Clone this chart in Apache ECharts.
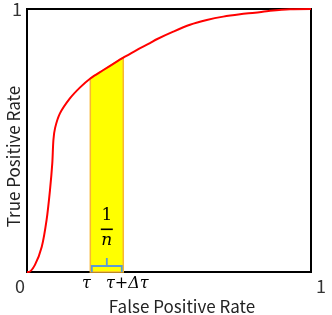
<!DOCTYPE html>
<html>
<head>
<meta charset="utf-8">
<script src="https://cdn.jsdelivr.net/npm/echarts@6/dist/echarts.min.js"></script>
<style>html,body{margin:0;padding:0;background:#fff}#c{width:332px;height:315px}</style>
</head>
<body>
<div id="c"></div>
<script>
// ROC curve points [FPR, TPR]
const rocX = [0, 0.005, 0.028, 0.052, 0.069, 0.081, 0.089, 0.093, 0.099, 0.116, 0.151, 0.187, 0.223, 0.269, 0.316, 0.339, 0.386, 0.433, 0.457, 0.515, 0.574, 0.633, 0.691, 0.750, 0.803, 0.856, 0.926, 1];
const rocY = [0, 0.0, 0.027, 0.096, 0.198, 0.312, 0.413, 0.502, 0.548, 0.603, 0.660, 0.702, 0.736, 0.768, 0.800, 0.815, 0.844, 0.870, 0.885, 0.914, 0.940, 0.958, 0.971, 0.980, 0.986, 0.993, 0.999, 1];
// band between tau and tau + delta tau
const bandX = [0.223, 0.269, 0.316, 0.339];
const bandY = [0.736, 0.768, 0.800, 0.815];
const bandLabels = ['τ', 'τ+Δτ'];
const xTickLabels = ['0', '1'];
const yTickLabels = ['', '1'];

const rocData = rocX.map((x, i) => [x, rocY[i]]);
const bandData = bandX.map((x, i) => [x, bandY[i]]);

const chart = echarts.init(document.getElementById('c'));
const fontMain = '"Noto Sans CJK SC", "Noto Sans", sans-serif';
const fontMath = '"DejaVu Serif", "Liberation Serif", serif';

chart.setOption({
  animation: false,
  grid: { left: 27, right: 21, top: 9, bottom: 43, outerBoundsMode: 'none', containLabel: false,
          show: true, borderColor: '#000', borderWidth: 2, backgroundColor: 'transparent' },
  xAxis: {
    type: 'value', min: 0, max: 1, interval: 1,
    name: 'False Positive Rate', nameLocation: 'middle', nameGap: 26, nameMoveOverlap: false,
    nameTextStyle: { fontFamily: fontMain, fontSize: 17, color: '#222', padding: [0, 0, 0, 26] },
    axisLine: { show: false }, axisTick: { show: false }, splitLine: { show: false },
    axisLabel: {
      formatter: v => xTickLabels[Math.round(v)], fontFamily: fontMain, fontSize: 18, color: '#333',
      margin: 5, alignMinLabel: 'right', alignMaxLabel: 'left',
      padding: [0, 2, 0, 5]
    }
  },
  yAxis: {
    type: 'value', min: 0, max: 1, interval: 1,
    name: 'True Positive Rate', nameLocation: 'middle', nameGap: 5, nameMoveOverlap: false,
    nameTextStyle: { fontFamily: fontMain, fontSize: 17, color: '#222', padding: [0, 32, 0, 0] },
    axisLine: { show: false }, axisTick: { show: false }, splitLine: { show: false },
    axisLabel: {
      formatter: v => yTickLabels[Math.round(v)], fontFamily: fontMain, fontSize: 18, color: '#333',
      margin: 5
    }
  },
  series: [
    {
      type: 'custom', z: 1,
      data: [0],
      renderItem: function (params, api) {
        const pts = [api.coord([bandX[0], 0])];
        bandData.forEach(d => pts.push(api.coord(d)));
        pts.push(api.coord([bandX[bandX.length - 1], 0]));
        const l = api.coord([bandX[0], 0]);
        const r = api.coord([bandX[bandX.length - 1], 0]);
        const mx = (l[0] + r[0]) / 2;
        const by = l[1];
        const blue = '#5b9bd5';
        return {
          type: 'group',
          children: [
            { type: 'polygon', shape: { points: pts }, style: { fill: '#ffff00', stroke: '#f7b733', lineWidth: 1.5 } },
            { type: 'polyline', shape: { points: [[l[0] + 1.5, by], [l[0] + 1.5, by - 6], [r[0] - 1.5, by - 6], [r[0] - 1.5, by]] },
              style: { stroke: blue, lineWidth: 1.8, fill: null } },
            { type: 'line', shape: { x1: mx, y1: by - 6, x2: mx, y2: by - 14 }, style: { stroke: blue, lineWidth: 1.8 } },
            { type: 'text', x: mx, y: by - 56, style: { text: '1', fontFamily: fontMath, fontSize: 17, fill: '#000', align: 'center', verticalAlign: 'middle' } },
            { type: 'rect', shape: { x: mx - 6, y: by - 43.5, width: 12, height: 1.6 }, style: { fill: '#000' } },
            { type: 'text', x: mx, y: by - 31, style: { text: 'n', fontFamily: fontMath, fontStyle: 'italic', fontSize: 17, fill: '#000', align: 'center', verticalAlign: 'middle' } },
            { type: 'text', x: l[0] - 4, y: by + 12, style: { text: bandLabels[0], fontFamily: fontMath, fontStyle: 'italic', fontSize: 16, fill: '#000', align: 'center', verticalAlign: 'middle' } },
            { type: 'text', x: r[0] + 4, y: by + 12, style: { text: bandLabels[1], fontFamily: fontMath, fontStyle: 'italic', fontSize: 16, fill: '#000', align: 'center', verticalAlign: 'middle' } }
          ]
        };
      }
    },
    {
      type: 'line', z: 3, data: rocData, showSymbol: false, smooth: 0.3,
      lineStyle: { color: '#ff0000', width: 2 }
    }
  ]
});
</script>
</body>
</html>
